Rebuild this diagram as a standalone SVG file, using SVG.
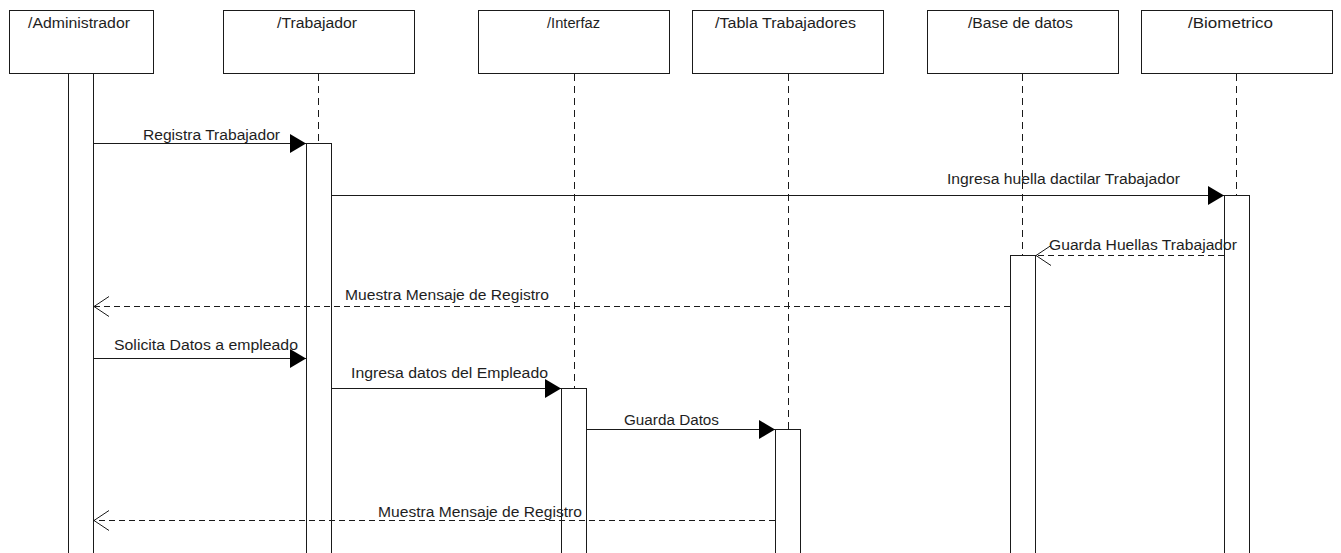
<svg xmlns="http://www.w3.org/2000/svg" width="1341" height="553" viewBox="0 0 1341 553">
  <style>
    .box { fill: #ffffff; stroke: #1a1a1a; stroke-width: 1; }
    .act { fill: #ffffff; stroke: #1a1a1a; stroke-width: 1; }
    .life { stroke: #1a1a1a; stroke-width: 1; stroke-dasharray: 7 5; fill: none; }
    .msg { stroke: #1a1a1a; stroke-width: 1; fill: none; }
    .ret { stroke: #1a1a1a; stroke-width: 1; fill: none; stroke-dasharray: 6 4; }
    text { font-family: "Liberation Sans", Arial, sans-serif; font-size: 14px; fill: #1e1e1e; }
  </style>
  <defs>
    <marker id="solid" markerUnits="userSpaceOnUse" markerWidth="17" markerHeight="20" refX="16" refY="9.5" orient="auto" overflow="visible">
      <path d="M0,0 L16,9.5 L0,19 Z" fill="#000000"/>
    </marker>
    <marker id="open" markerUnits="userSpaceOnUse" markerWidth="17" markerHeight="22" refX="16" refY="10" orient="auto" overflow="visible">
      <path d="M1,0 L16,10 L1,20" fill="none" stroke="#1a1a1a" stroke-width="1"/>
    </marker>
  </defs>

  <!-- lifeline: Administrador -->
  <g id="administrador">
    <rect class="box" x="9.5" y="10.5" width="144" height="63"/>
    <text x="28" y="28" textLength="102" lengthAdjust="spacingAndGlyphs">/Administrador</text>
    <rect class="act" x="68.5" y="73.5" width="25" height="490"/>
  </g>

  <!-- lifeline: Trabajador -->
  <g id="trabajador">
    <rect class="box" x="223.5" y="10.5" width="191" height="63"/>
    <text x="277" y="28" textLength="80" lengthAdjust="spacingAndGlyphs">/Trabajador</text>
    <line class="life" x1="318.5" y1="74" x2="318.5" y2="143"/>
    <rect class="act" x="306.5" y="143.5" width="25" height="420"/>
  </g>

  <!-- lifeline: Interfaz -->
  <g id="interfaz">
    <rect class="box" x="478.5" y="10.5" width="191" height="63"/>
    <text x="547" y="28" textLength="53" lengthAdjust="spacingAndGlyphs">/Interfaz</text>
    <line class="life" x1="574.5" y1="74" x2="574.5" y2="388"/>
    <rect class="act" x="561.5" y="388.5" width="25" height="180"/>
  </g>

  <!-- lifeline: Tabla Trabajadores -->
  <g id="tabla-trabajadores">
    <rect class="box" x="692.5" y="10.5" width="191" height="63"/>
    <text x="715" y="28" textLength="141" lengthAdjust="spacingAndGlyphs">/Tabla Trabajadores</text>
    <line class="life" x1="788.5" y1="74" x2="788.5" y2="429"/>
    <rect class="act" x="775.5" y="429.5" width="25" height="140"/>
  </g>

  <!-- lifeline: Base de datos -->
  <g id="base-de-datos">
    <rect class="box" x="927.5" y="10.5" width="191" height="63"/>
    <text x="968" y="28" textLength="105" lengthAdjust="spacingAndGlyphs">/Base de datos</text>
    <line class="life" x1="1022.5" y1="74" x2="1022.5" y2="255"/>
    <rect class="act" x="1010.5" y="255.5" width="25" height="310"/>
  </g>

  <!-- lifeline: Biometrico -->
  <g id="biometrico">
    <rect class="box" x="1141.5" y="10.5" width="191" height="63"/>
    <text x="1188" y="28" textLength="85" lengthAdjust="spacingAndGlyphs">/Biometrico</text>
    <line class="life" x1="1236.5" y1="74" x2="1236.5" y2="195"/>
    <rect class="act" x="1224.5" y="195.5" width="25" height="370"/>
  </g>

  <!-- messages -->
  <g id="connectors">
    <line class="msg" x1="94" y1="143.5" x2="306" y2="143.5" marker-end="url(#solid)"/>
    <text x="143" y="140" textLength="137" lengthAdjust="spacingAndGlyphs">Registra Trabajador</text>

    <line class="msg" x1="332" y1="195.5" x2="1224" y2="195.5" marker-end="url(#solid)"/>
    <text x="947" y="184" textLength="233" lengthAdjust="spacingAndGlyphs">Ingresa huella dactilar Trabajador</text>

    <line class="ret" x1="1224" y1="255.5" x2="1036" y2="255.5" marker-end="url(#open)"/>
    <text x="1049" y="250" textLength="188" lengthAdjust="spacingAndGlyphs">Guarda Huellas Trabajador</text>

    <line class="ret" x1="1010" y1="306.5" x2="94" y2="306.5" marker-end="url(#open)"/>
    <text x="345" y="300" textLength="204" lengthAdjust="spacingAndGlyphs">Muestra Mensaje de Registro</text>

    <line class="msg" x1="94" y1="358.5" x2="306" y2="358.5" marker-end="url(#solid)"/>
    <text x="114" y="350" textLength="184" lengthAdjust="spacingAndGlyphs">Solicita Datos a empleado</text>

    <line class="msg" x1="332" y1="388.5" x2="561" y2="388.5" marker-end="url(#solid)"/>
    <text x="351" y="378" textLength="197" lengthAdjust="spacingAndGlyphs">Ingresa datos del Empleado</text>

    <line class="msg" x1="587" y1="429.5" x2="775" y2="429.5" marker-end="url(#solid)"/>
    <text x="624" y="425" textLength="95" lengthAdjust="spacingAndGlyphs">Guarda Datos</text>

    <line class="ret" x1="775" y1="520.5" x2="94" y2="520.5" marker-end="url(#open)"/>
    <text x="378" y="517" textLength="204" lengthAdjust="spacingAndGlyphs">Muestra Mensaje de Registro</text>
  </g>
</svg>
